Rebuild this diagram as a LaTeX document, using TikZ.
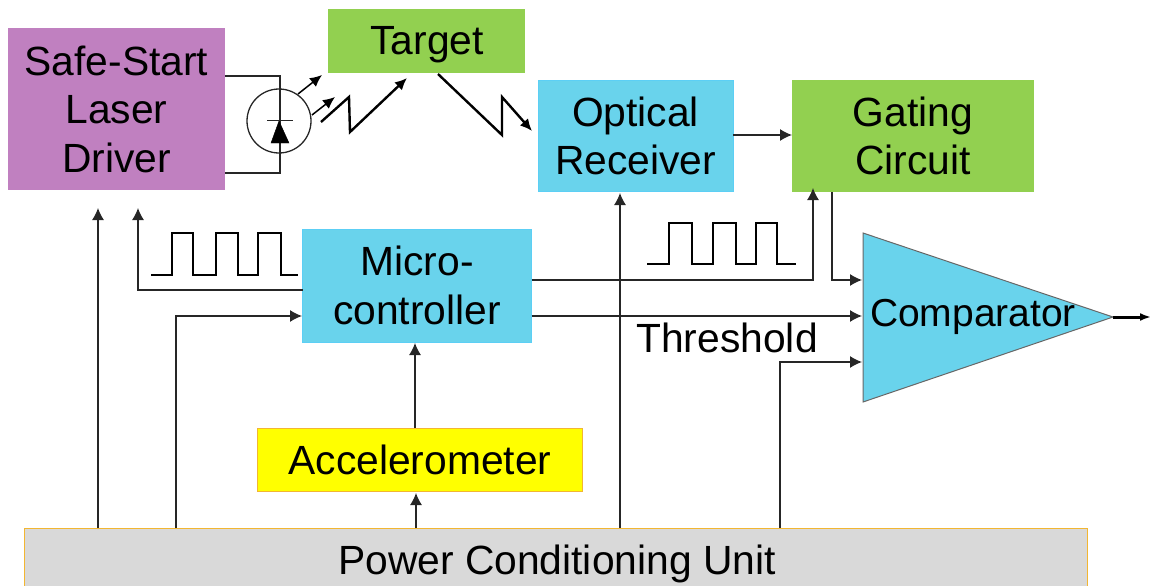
\documentclass[tikz,border=0pt]{standalone}
\usepackage{fontspec}
\setmainfont{Liberation Sans}
\usepackage{xcolor}
\usetikzlibrary{arrows.meta,calc,positioning}
\definecolor{boxpurple}{HTML}{C080C0}
\definecolor{boxgreen}{HTML}{92D050}
\definecolor{boxblue}{HTML}{69D3EC}
\definecolor{edgeblue}{HTML}{5CCFF5}
\definecolor{boxyellow}{HTML}{FFFF00}
\definecolor{boxgray}{HTML}{D9D9D9}
\definecolor{edgeorange}{HTML}{F2B632}
\definecolor{darkline}{HTML}{262626}
\tikzset{
  wire/.style={darkline, line width=1.3pt},
  wirearrow/.style={darkline, -{Latex[length=12pt,width=12pt]}, line width=1.3pt},
  smallarrow/.style={black, -{Latex[length=12pt,width=11pt]}, line width=1.5pt},
  zigzag/.style={black, -{Latex[length=12pt,width=11pt]}, line width=2.4pt},
  pulse/.style={black, line width=2.4pt},
  boxtext/.style={align=center, inner sep=0pt, outer sep=0pt, font=\fontsize{40.8}{48.5}\selectfont},
  purplenode/.style={boxtext, fill=boxpurple},
  greennode/.style={boxtext, fill=boxgreen},
  bluenode/.style={boxtext, fill=boxblue, draw=edgeblue, line width=1pt},
  yellownode/.style={boxtext, fill=boxyellow, draw=edgeorange, line width=1pt},
  graynode/.style={boxtext, fill=boxgray, draw=edgeorange, line width=1pt},
  labelnode/.style={boxtext}
}
\begin{document}
\begin{tikzpicture}[x=1pt,y=-1pt]
  \useasboundingbox (0,0) rectangle (1152,586);
  % blocks
  \node[purplenode,minimum width=217,minimum height=162] (driver) at (116.5,109) {Safe-Start\\Laser\\Driver};
  \node[greennode,minimum width=197,minimum height=64] (target) at (426.5,41) {};
  \node[labelnode] (targettext) at (427,45) {Target};
  \node[bluenode,minimum width=195,minimum height=111] (receiver) at (635.5,136) {Optical\\Receiver};
  \node[greennode,minimum width=242,minimum height=112] (gating) at (913,136) {Gating\\Circuit};
  \node[bluenode,minimum width=229,minimum height=113] (micro) at (417,285.5) {Micro-\\controller};
  \node[yellownode,minimum width=325,minimum height=63] (accel) at (419.5,459.5) {};
  \node[labelnode] (acceltext) at (420,460) {Accelerometer};
  \node[graynode,minimum width=1063,minimum height=62] (power) at (555.5,559) {};
  \node[labelnode] (powertext) at (557,564) {Power Conditioning Unit};
  % comparator
  \coordinate (compa) at (863,233);
  \coordinate (compb) at (863,402);
  \coordinate (compc) at (1113,317);
  \draw[fill=boxblue,draw=darkline!70,line width=1pt] (compa) -- (compc) -- (compb) -- cycle;
  \node[labelnode,font=\fontsize{39}{46}\selectfont] (comptext) at (973,317) {Comparator};
  \node[labelnode] (threshold) at (727,338) {Threshold};
  % named ends
  \coordinate (driverin) at (98,208);
  \coordinate (driverpulse) at (138,208);
  \coordinate (microin) at (302,316);
  \coordinate (receiverin) at (620,193);
  \coordinate (gatingin) at (813,188);
  \coordinate (compin) at (862,280);
  \coordinate (compmid) at (862,316);
  \coordinate (complow) at (862,362);
  \coordinate (compout) at (1151,317);
  % connectors
  \draw[wirearrow] (power.north -| driverin) -- (driverin);
  \draw[wirearrow] (power.north -| 176,0) -- (176,316) -- (microin);
  \draw[wirearrow] (power.north -| accel.south) ++(-3.5,0) -- ++(0,-35);
  \draw[wirearrow] (accel.north) ++(-4.5,0) -- ++(0,-85);
  \draw[wirearrow] (power.north -| receiverin) -- (receiverin);
  \draw[wirearrow] (power.north -| 780,0) -- (780,362) -- (complow);
  \draw[wirearrow] (micro.west |- 0,290) -- (driverpulse |- 0,290) -- (driverpulse);
  \draw[wirearrow] (micro.east |- 0,280) -- (gatingin |- 0,280) -- (gatingin);
  \draw[wirearrow] (micro.east |- compmid) -- (compmid);
  \draw[wirearrow] (gating.south -| 832,0) -- (832,280) -- (compin);
  \draw[wirearrow] (receiver.east |- 0,135) -- (gating.west |- 0,135);
  \draw[black,-{Latex[length=11pt,width=8pt]},line width=3pt] (compc) -- (compout);
  % laser diode
  \node[circle,draw=darkline,line width=1.3pt,minimum size=64,inner sep=0pt] (diode) at (279,121) {};
  \draw[wire] (driver.east |- 0,76) -- (280,76) -- (280,173) -- (driver.east |- 0,173);
  \draw[fill=black] (279,121) -- (289,143) -- (271,143) -- cycle;
  \draw[wire] (267,120.5) -- (293,120.5);
  \draw[smallarrow] (298,94) -- (322,75);
  \draw[smallarrow] (312,115) -- (335,97);
  % optical paths
  \draw[zigzag] (321,122) -- (349,97) -- (350,132) -- (407,78);
  \draw[zigzag] (438,74) -- (502,135) -- (502,97) -- (532,131);
  % pulse trains
  \draw[pulse] (151,275) -| (172,233) -| (193,275) -| (216,233) -| (238,275) -| (258,233) -| (281,275) -- (298,275);
  \draw[pulse] (647,264) -| (669,223) -| (692,264) -| (713,223) -| (736,264) -| (756,223) -| (777,264) -- (796,264);
\end{tikzpicture}
\end{document}
